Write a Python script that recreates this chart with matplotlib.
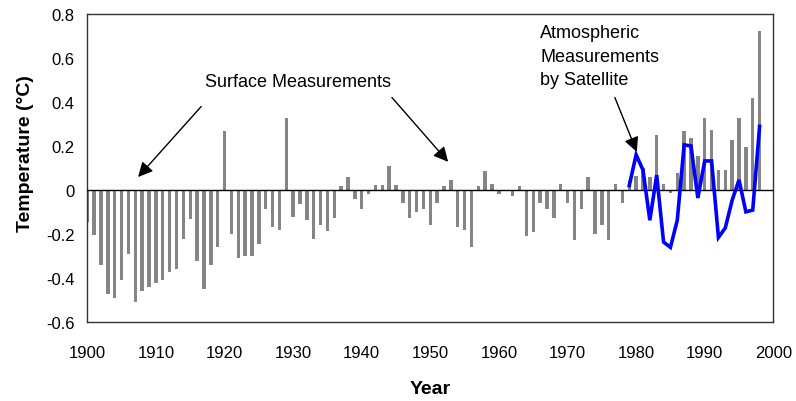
import matplotlib
matplotlib.use("Agg")
import matplotlib.pyplot as plt

plt.rcParams['font.family'] = ['Liberation Sans', 'DejaVu Sans']

# annual surface temperature anomaly, 1900-1998 (deg C)
surface_years = list(range(1900, 1999))
surface_temp = [
    -0.145, -0.205, -0.34, -0.47, -0.49, -0.41, -0.29, -0.51, -0.46, -0.44,   # 1900s
    -0.42, -0.41, -0.37, -0.36, -0.22, -0.13, -0.32, -0.45, -0.34, -0.26,     # 1910s
    0.27, -0.20, -0.307, -0.30, -0.30, -0.247, -0.087, -0.167, -0.18, 0.327,  # 1920s
    -0.122, -0.065, -0.137, -0.22, -0.16, -0.187, -0.126, 0.018, 0.061, -0.04,  # 1930s
    -0.087, -0.018, 0.024, 0.024, 0.107, 0.024, -0.061, -0.126, -0.10, -0.087,  # 1940s
    -0.16, -0.061, 0.02, 0.046, -0.167, -0.18, -0.26, 0.018, 0.087, 0.026,    # 1950s
    -0.02, 0.0, -0.026, 0.02, -0.21, -0.19, -0.06, -0.087, -0.126, 0.026,     # 1960s
    -0.058, -0.225, -0.084, 0.058, -0.198, -0.157, -0.225, 0.026, -0.058, 0.046,  # 1970s
    0.065, 0.10, 0.06, 0.25, 0.027, -0.015, 0.079, 0.267, 0.237, 0.155,      # 1980s
    0.329, 0.274, 0.091, 0.091, 0.226, 0.329, 0.196, 0.417, 0.72,            # 1990s
]

# lower troposphere anomaly from satellite, 1979-1998 (deg C)
satellite_years = list(range(1979, 1999))
satellite_temp = [
    0.02, 0.16, 0.091, -0.137, 0.068, -0.236, -0.26, -0.137, 0.205, 0.20,
    -0.036, 0.132, 0.132, -0.215, -0.172, -0.046, 0.046, -0.099, -0.091, 0.289,
]

yticks = [-0.6, -0.4, -0.2, 0, 0.2, 0.4, 0.6, 0.8]
ytick_labels = ["-0.6", "-0.4", "-0.2", "0", "0.2", "0.4", "0.6", "0.8"]
xticks = list(range(1900, 2001, 10))

fig = plt.figure(figsize=(7.96, 4.02), dpi=100)
ax = fig.add_axes([0.1097, 0.1958, 0.8618, 0.7676])

ax.bar(surface_years, surface_temp, width=0.5, color="#858585", zorder=2)
ax.axhline(0, color="black", lw=1.0, zorder=3)
ax.plot(satellite_years, satellite_temp, color="#0000ff", lw=2.6, zorder=4,
        solid_joinstyle="miter")

ax.set_xlim(1900, 2000)
ax.set_ylim(-0.6, 0.8)
ax.set_xticks(xticks)
ax.set_xticklabels([str(x) for x in xticks])
ax.set_yticks(yticks)
ax.set_yticklabels(ytick_labels)
ax.tick_params(axis="both", length=0, labelsize=12)
ax.tick_params(axis="x", pad=16)
ax.tick_params(axis="y", pad=9)
for sp in ax.spines.values():
    sp.set_color("#333333")
    sp.set_linewidth(1.0)

ax.set_xlabel("Year", fontsize=14, fontweight="bold", labelpad=15)
ax.set_ylabel("Temperature (\u00b0C)", fontsize=14, fontweight="bold")
ax.yaxis.set_label_coords(-0.077, 0.55)

arrow = dict(arrowstyle="-|>", color="black", lw=1.0, mutation_scale=22,
             shrinkA=0, shrinkB=0)
ax.text(1930.7, 0.493, "Surface Measurements", fontsize=13,
        ha="center", va="center")
ax.annotate("", xy=(1907.4, 0.059), xytext=(1916.6, 0.379), arrowprops=arrow)
ax.annotate("", xy=(1952.6, 0.128), xytext=(1944.4, 0.42), arrowprops=arrow)

ax.text(1966.0, 0.607, "Atmospheric\nMeasurements\nby Satellite",
        fontsize=13, ha="left", va="center", linespacing=1.5)
ax.annotate("", xy=(1980.1, 0.173), xytext=(1976.9, 0.42), arrowprops=arrow)

fig.savefig("out.png", dpi=100)
